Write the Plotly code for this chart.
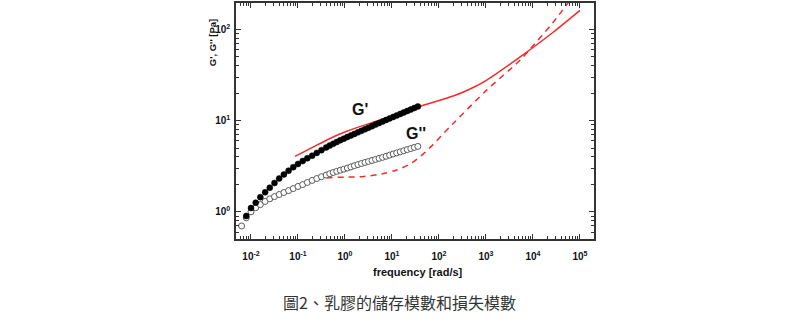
import plotly.graph_objects as go

# ---------------- data ----------------
# G' (storage modulus, filled circles)
freq_gp = [0.00794, 0.0100, 0.0126, 0.0158, 0.0200, 0.0251, 0.0316, 0.0398, 0.0501,
           0.0631, 0.0794, 0.100, 0.126, 0.158, 0.200, 0.251, 0.316, 0.398,
           0.473, 0.562, 0.668, 0.794, 0.944, 1.122, 1.334, 1.585, 1.884, 2.239,
           2.661, 3.162, 3.758, 4.467, 5.309, 6.310, 7.499, 8.913, 10.59, 12.59,
           14.96, 17.78, 21.13, 25.12, 29.85, 35.48]
gp = [0.90, 1.10, 1.26, 1.45, 1.64, 1.84, 2.07, 2.32, 2.57,
      2.83, 3.09, 3.35, 3.61, 3.87, 4.13, 4.43, 4.75, 5.07,
      5.33, 5.58, 5.83, 6.10, 6.35, 6.62, 6.89, 7.16, 7.45, 7.74,
      8.05, 8.37, 8.71, 9.06, 9.42, 9.79, 10.19, 10.59, 10.99, 11.40,
      11.83, 12.30, 12.76, 13.24, 13.77, 14.32]

# G'' (loss modulus, open circles)
freq_gpp = [0.00631, 0.00794, 0.0100, 0.0126, 0.0158, 0.0200, 0.0251, 0.0316, 0.0398,
            0.0501, 0.0631, 0.0794, 0.100, 0.126, 0.158, 0.200, 0.251, 0.316, 0.398,
            0.473, 0.562, 0.668, 0.794, 0.944, 1.122, 1.334, 1.585, 1.884, 2.239,
            2.661, 3.162, 3.758, 4.467, 5.309, 6.310, 7.499, 8.913, 10.59, 12.59,
            14.96, 17.78, 21.13, 25.12, 29.85, 35.48]
gpp = [0.70, 0.86, 1.00, 1.11, 1.20, 1.30, 1.39, 1.47, 1.55,
       1.63, 1.71, 1.80, 1.90, 1.99, 2.10, 2.21, 2.32, 2.43, 2.53,
       2.62, 2.70, 2.78, 2.86, 2.94, 3.02, 3.11, 3.21, 3.30, 3.39,
       3.48, 3.57, 3.66, 3.76, 3.86, 3.96, 4.07, 4.19, 4.31, 4.43,
       4.55, 4.68, 4.82, 4.95, 5.09, 5.22]

# model G' (solid red line)
freq_model_gp = [0.0863, 0.2, 0.48, 1.086, 5.01, 15.85, 50.1, 200, 447, 1000, 5250, 26900, 100000]
model_gp = [4.06, 5.07, 6.38, 7.67, 10.0, 12.2, 14.96, 18.62, 22.13, 27.54, 49.8, 93.3, 162]

# model G'' (dashed red line)
freq_model_gpp = [0.0863, 0.158, 0.251, 0.398, 1.0, 2.51, 6.31, 12.6, 25.1, 50.1,
                  200, 1020, 5250, 7940, 26900, 63100]
model_gpp = [1.89, 2.10, 2.27, 2.36, 2.40, 2.44, 2.62, 2.88, 3.39, 4.47,
             9.31, 21.5, 45.8, 58.0, 120, 214]

x_tickvals = [1e-2, 1e-1, 1e0, 1e1, 1e2, 1e3, 1e4, 1e5]
x_ticktext = ["10<sup>-2</sup>", "10<sup>-1</sup>", "10<sup>0</sup>", "10<sup>1</sup>",
              "10<sup>2</sup>", "10<sup>3</sup>", "10<sup>4</sup>", "10<sup>5</sup>"]
y_tickvals = [1e0, 1e1, 1e2]
y_ticktext = ["10<sup>0</sup>", "10<sup>1</sup>", "10<sup>2</sup>"]

x_title = "frequency [rad/s]"
y_title = "G', G'' [Pa]"
caption = "圖2、乳膠的儲存模數和損失模數"

# ---------------- figure ----------------
W, H = 799, 324
L, R, T, B = 236, 594, 2.7, 239.3

def px(xp, yp):
    return (xp - L) / (R - L), (B - yp) / (B - T)

fig = go.Figure()
fig.add_trace(go.Scatter(x=freq_model_gp, y=model_gp, mode="lines",
                         line=dict(color="#f52a2a", width=1.5, shape="spline", smoothing=0.8),
                         hoverinfo="skip"))
fig.add_trace(go.Scatter(x=freq_model_gpp, y=model_gpp, mode="lines",
                         line=dict(color="#f52a2a", width=1.5, dash="6px,5px",
                                   shape="spline", smoothing=0.8),
                         hoverinfo="skip"))
fig.add_trace(go.Scatter(x=freq_gpp, y=gpp, mode="markers",
                         marker=dict(symbol="circle", size=6, color="white",
                                     line=dict(color="#5a5a5a", width=1))))
fig.add_trace(go.Scatter(x=freq_gp, y=gp, mode="markers",
                         marker=dict(symbol="circle", size=6, color="black",
                                     line=dict(color="black", width=0.5))))

def minor_vals(lo, hi):
    vals = []
    for e in range(lo, hi):
        for m in range(2, 10):
            vals.append(m * 10.0 ** e)
    return vals

tickfont = dict(family="Liberation Sans, Arial, sans-serif", size=10, color="#111", weight="bold")
axis_common = dict(type="log", showgrid=False, zeroline=False, showline=True,
                   linecolor="#333", linewidth=1.5, mirror="allticks",
                   ticks="inside", ticklen=5, tickwidth=1, tickcolor="#333",
                   tickfont=tickfont, tickmode="array")

fig.update_xaxes(**axis_common, range=[-2.319, 5.298],
                 tickvals=x_tickvals, ticktext=x_ticktext, ticklabelstandoff=7,
                 minor=dict(tickmode="array", tickvals=minor_vals(-3, 6),
                            ticks="inside", ticklen=3, tickcolor="#333", showgrid=False))
fig.update_yaxes(**axis_common, range=[-0.298, 2.291],
                 tickvals=y_tickvals, ticktext=y_ticktext, ticklabelstandoff=2,
                 minor=dict(tickmode="array", tickvals=minor_vals(-1, 3),
                            ticks="inside", ticklen=3, tickcolor="#333", showgrid=False))

ann = []
bold = dict(family="Liberation Sans, Arial, sans-serif", color="#111", weight="bold")
ax, ay = px(418, 272)
ann.append(dict(text=x_title, x=ax, y=ay, xref="paper", yref="paper", showarrow=False,
                font=dict(size=11, **bold), xanchor="center", yanchor="middle"))
ax, ay = px(212.5, 42.5)
ann.append(dict(text=y_title, x=ax, y=ay, xref="paper", yref="paper", showarrow=False,
                textangle=-90, font=dict(size=9.5, **bold), xanchor="center", yanchor="middle"))
ax, ay = px(360, 109)
ann.append(dict(text="G'", x=ax, y=ay, xref="paper", yref="paper", showarrow=False,
                font=dict(size=16, **bold), xanchor="center", yanchor="middle"))
ax, ay = px(416, 134)
ann.append(dict(text="G''", x=ax, y=ay, xref="paper", yref="paper", showarrow=False,
                font=dict(size=16, **bold), xanchor="center", yanchor="middle"))
ax, ay = px(399, 302)
ann.append(dict(text=caption, x=ax, y=ay, xref="paper", yref="paper", showarrow=False,
                font=dict(size=16, family="Noto Sans CJK TC", color="#333"),
                xanchor="center", yanchor="middle"))

fig.update_layout(width=W, height=H, margin=dict(l=L, r=W - R, t=T, b=H - B),
                  paper_bgcolor="white", plot_bgcolor="white", showlegend=False,
                  annotations=ann)

fig.write_html("out.html")
